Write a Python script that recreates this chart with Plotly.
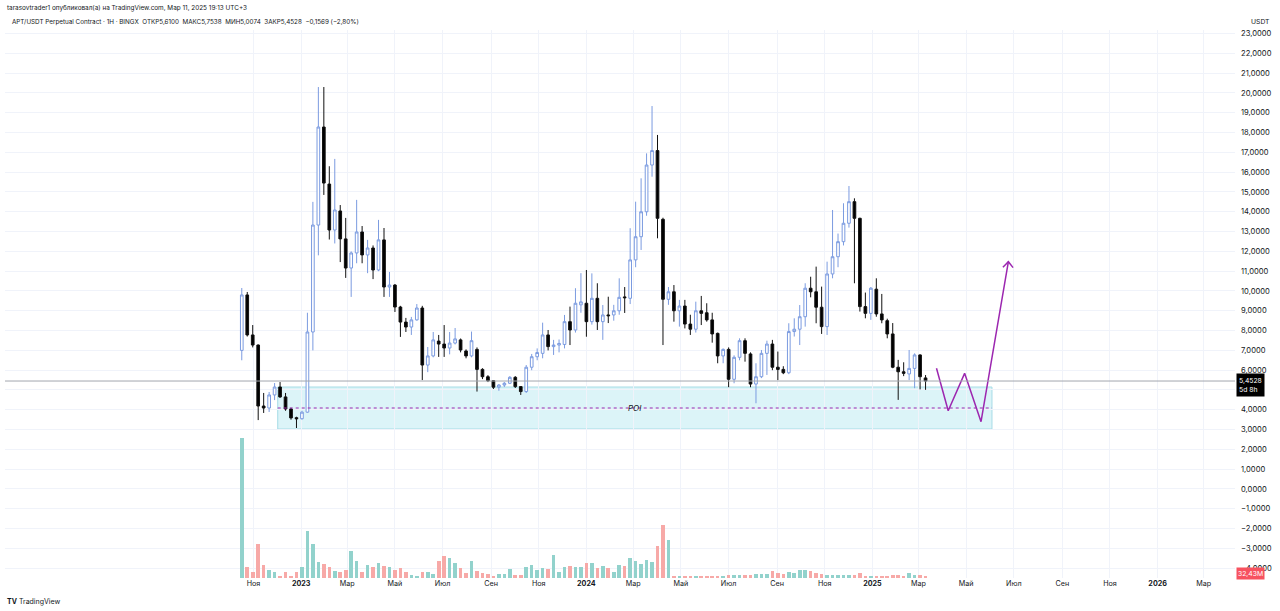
import pandas as pd
import plotly.graph_objects as go

# ---------------- data (weekly candles from 2022-10-17) ----------------
start_week = "2022-10-17"
n_weeks = 126
opens = [7.0, 9.8, 7.78, 7.27, 4.19, 4.09, 4.75, 5.15, 4.65, 4.04,
         3.6, 3.55, 3.88, 7.93, 13.33, 18.28, 15.4, 13.08, 14.04, 12.63,
         11.16, 11.92, 12.98, 11.82, 12.17, 11.06, 12.58, 10.2, 10.3, 9.19,
         8.43, 8.18, 8.54, 9.14, 6.26, 6.72, 7.47, 7.32, 7.12, 7.37,
         7.53, 6.97, 6.72, 7.05, 6.04, 5.67, 5.47, 5.14, 5.25, 5.34,
         5.64, 5.17, 4.92, 6.15, 6.68, 6.85, 7.78, 7.19, 7.27, 7.3,
         8.45, 8.03, 9.3, 9.38, 8.45, 9.63, 8.45, 8.79, 8.79, 9.0,
         9.7, 9.63, 11.57, 12.74, 14.0, 16.36, 17.09, 13.62, 9.58, 9.96,
         9.0, 9.24, 8.33, 8.07, 9.0, 8.9, 8.54, 7.86, 6.72, 7.05,
         5.54, 6.65, 7.49, 6.82, 5.3, 5.67, 6.85, 7.32, 6.15, 6.04,
         5.87, 7.95, 8.07, 8.7, 10.14, 9.96, 9.18, 8.2, 10.86, 11.73,
         12.49, 13.42, 14.51, 13.67, 9.21, 8.87, 10.09, 8.84, 8.5, 7.83,
         6.15, 5.92, 5.81, 6.09, 6.77, 5.61]
highs = [10.15, 9.95, 8.28, 7.3, 4.85, 4.9, 5.35, 5.4, 4.85, 4.1,
         3.65, 3.95, 8.9, 14.5, 20.3, 20.3, 16.3, 16.67, 14.34, 13.69,
         12.0, 14.6, 13.28, 12.58, 12.3, 13.59, 13.18, 10.96, 10.35, 9.25,
         8.64, 8.69, 9.34, 9.25, 7.17, 7.93, 7.78, 8.28, 7.93, 8.13,
         7.6, 7.05, 7.95, 7.15, 6.1, 5.75, 5.5, 5.3, 5.4, 5.7,
         5.7, 5.2, 6.26, 6.82, 7.1, 8.4, 8.03, 7.53, 7.55, 8.79,
         9.21, 10.14, 10.9, 11.06, 10.89, 10.39, 9.29, 9.71, 9.3, 10.64,
         10.2, 13.17, 14.51, 15.69, 16.95, 19.34, 17.88, 13.7, 10.2, 10.3,
         9.55, 9.55, 8.8, 9.46, 9.75, 9.38, 8.9, 7.9, 7.1, 7.15,
         6.75, 7.61, 7.61, 6.9, 6.35, 7.02, 7.49, 7.53, 6.94, 6.2,
         8.37, 8.62, 9.29, 10.39, 10.72, 11.23, 10.22, 11.48, 14.09, 12.9,
         14.43, 15.3, 14.68, 13.7, 9.92, 10.2, 10.64, 9.85, 8.6, 8.38,
         6.52, 6.4, 7.02, 6.85, 6.8, 5.7538]
lows = [6.5, 7.7, 7.15, 3.48, 3.84, 3.89, 4.49, 4.6, 3.95, 3.5,
        3.08, 3.5, 3.85, 7.0, 11.8, 14.85, 12.6, 12.4, 11.46, 10.66,
        9.7, 11.4, 11.4, 10.9, 10.6, 11.0, 9.7, 9.7, 8.94, 7.68,
        7.93, 7.78, 8.5, 5.5, 5.9, 6.65, 6.67, 6.67, 6.8, 7.3,
        6.9, 6.6, 6.65, 4.92, 5.55, 5.4, 5.05, 4.96, 5.15, 5.3,
        5.1, 4.75, 4.85, 6.0, 6.5, 6.6, 7.0, 6.77, 6.9, 7.1,
        7.27, 7.9, 8.9, 7.69, 8.3, 8.03, 7.53, 8.38, 8.5, 8.8,
        8.89, 9.34, 11.2, 12.07, 13.8, 15.77, 12.66, 7.27, 9.3, 8.45,
        8.2, 8.11, 7.78, 7.9, 8.28, 8.45, 7.39, 6.35, 6.35, 5.14,
        5.34, 6.5, 6.43, 5.14, 4.33, 5.6, 5.76, 6.0, 5.5, 5.8,
        5.8, 7.7, 7.27, 8.2, 9.68, 8.37, 7.83, 7.78, 10.64, 11.2,
        12.3, 13.2, 10.39, 8.96, 8.62, 8.54, 8.7, 8.37, 7.61, 6.1,
        4.5, 5.7, 5.5, 5.09, 5.03, 5.0074]
closes = [9.8, 7.78, 7.27, 4.19, 4.09, 4.75, 5.15, 4.65, 4.04, 3.59,
          3.55, 3.88, 7.93, 13.33, 18.28, 15.45, 13.08, 14.09, 12.63, 11.16,
          11.92, 12.98, 11.82, 12.17, 11.06, 12.58, 10.2, 10.3, 9.19, 8.43,
          8.18, 8.54, 9.14, 6.26, 6.72, 7.53, 7.32, 7.12, 7.37, 7.58,
          7.02, 6.72, 7.49, 6.04, 5.67, 5.47, 5.14, 5.25, 5.34, 5.64,
          5.17, 4.92, 6.15, 6.68, 6.89, 7.78, 7.19, 7.27, 7.35, 8.45,
          8.03, 9.38, 9.45, 8.45, 9.63, 8.45, 8.79, 8.75, 9.0, 9.68,
          9.66, 11.57, 12.74, 14.0, 16.36, 17.09, 13.67, 9.58, 9.96, 9.0,
          9.24, 8.33, 8.07, 9.0, 8.87, 8.54, 7.83, 6.72, 7.05, 5.54,
          6.65, 7.49, 6.85, 5.3, 5.67, 6.85, 7.32, 6.15, 6.04, 5.87,
          7.95, 8.07, 8.7, 10.14, 9.96, 9.18, 8.2, 10.86, 11.73, 12.49,
          13.42, 14.51, 13.67, 9.21, 8.87, 10.14, 8.84, 8.54, 7.83, 6.15,
          5.92, 5.84, 6.09, 6.77, 5.67, 5.4528]
volumes_m = [4480, 342, 202, 1088, 426, 256, 182, 74, 182, 74,
             182, 362, 1514, 1088, 522, 448, 342, 234, 182, 256,
             874, 554, 182, 416, 342, 480, 374, 362, 256, 320,
             182, 106, 54, 182, 202, 128, 534, 714, 640, 480,
             320, 150, 554, 234, 150, 128, 74, 128, 128, 288,
             106, 106, 342, 416, 256, 320, 288, 736, 182, 342,
             374, 362, 342, 470, 470, 310, 374, 310, 182, 416,
             374, 640, 554, 448, 576, 522, 1014, 1696, 1226, 74,
             74, 54, 54, 64, 54, 54, 42, 54, 74, 86,
             86, 86, 86, 86, 128, 128, 128, 234, 170, 128,
             192, 150, 256, 256, 214, 170, 128, 106, 106, 106,
             86, 86, 106, 150, 74, 54, 74, 74, 74, 86,
             86, 74, 170, 106, 106, 32.43]

price_ticks = list(range(-4, 24))
hidden_price_ticks = [5]  # covered by the last-price badge in the reference
month_ticks = ["2022-11-01", "2023-01-01", "2023-03-01", "2023-05-01", "2023-07-01",
               "2023-09-01", "2023-11-01", "2024-01-01", "2024-03-01", "2024-05-01",
               "2024-07-01", "2024-09-01", "2024-11-01", "2025-01-01", "2025-03-01",
               "2025-05-01", "2025-07-01", "2025-09-01", "2025-11-01", "2026-01-01",
               "2026-03-01"]
month_labels = ["Ноя", "<b>2023</b>", "Мар", "Май", "Июл", "Сен", "Ноя", "<b>2024</b>",
                "Мар", "Май", "Июл", "Сен", "Ноя", "<b>2025</b>", "Мар", "Май", "Июл",
                "Сен", "Ноя", "<b>2026</b>", "Мар"]

# POI zone and projected path (drawing)
poi_dates = ["2022-12-02", "2025-06-03"]
poi_top, poi_bottom = 5.15, 3.03
zigzag_dates = ["2025-03-24", "2025-04-08", "2025-04-29", "2025-05-20", "2025-06-24"]
zigzag_prices = [6.10, 3.95, 5.84, 3.40, 11.48]
arrow_wing_dates = ["2025-06-17", "2025-06-24", "2025-06-30"]
arrow_wing_prices = [11.20, 11.48, 11.18]
last_price = 5.4528

x_range = ["2021-12-18", "2026-04-10"]
y_range = [-4.495, 23.18]
vol_range = [0, 17536]

# ---------------- figure ----------------
dates = pd.date_range(start_week, periods=n_weeks, freq="7D")
UP = "#7b9be0"
DOWN = "#111111"
VOL_UP = "#92d2cc"
VOL_DOWN = "#f7a9a7"
vol_colors = [VOL_UP if c >= o else VOL_DOWN for o, c in zip(opens, closes)]
FONT = "Inter"
TXT = "#131722"


def price_label(v):
    if v in hidden_price_ticks:
        return ""
    return f"{v},0000" if v >= 0 else f"−{abs(v)},0000"


fig = go.Figure()

fig.add_trace(go.Bar(
    x=dates, y=volumes_m, yaxis="y2", marker=dict(color=vol_colors, line=dict(width=0)),
    width=4.6 * 86400000, showlegend=False, hoverinfo="skip"))

fig.add_trace(go.Candlestick(
    x=dates, open=opens, high=highs, low=lows, close=closes,
    increasing=dict(fillcolor="#ffffff", line=dict(color=UP, width=1)),
    decreasing=dict(fillcolor="#000000", line=dict(color=DOWN, width=1)),
    whiskerwidth=0, showlegend=False))

fig.add_trace(go.Scatter(
    x=zigzag_dates, y=zigzag_prices, mode="lines",
    line=dict(color="#9c27b0", width=1.5), showlegend=False, hoverinfo="skip"))
fig.add_trace(go.Scatter(
    x=arrow_wing_dates, y=arrow_wing_prices, mode="lines",
    line=dict(color="#9c27b0", width=1.5), showlegend=False, hoverinfo="skip"))

shapes = [
    dict(type="rect", xref="x", yref="y", x0=poi_dates[0], x1=poi_dates[1],
         y0=poi_bottom, y1=poi_top, fillcolor="#dcf4f8",
         line=dict(color="#a6dce6", width=1), layer="below"),
    dict(type="line", xref="x", yref="y", x0=poi_dates[0], x1=poi_dates[1],
         y0=(poi_top + poi_bottom) / 2, y1=(poi_top + poi_bottom) / 2,
         line=dict(color="#9c27b0", width=1, dash="3px,3px")),
    dict(type="line", xref="paper", yref="y", x0=0, x1=1, y0=last_price, y1=last_price,
         line=dict(color="#a3a6ae", width=1)),
]

annotations = [
    dict(text="tarasovtrader1 опубликовал(а) на TradingView.com, Мар 11, 2025 19:13 UTC+3",
         xref="paper", yref="paper", x=0.0, y=1.040, xanchor="left", yanchor="middle",
         showarrow=False, font=dict(size=6.4, color=TXT, family=FONT)),
    dict(text="APT/USDT Perpetual Contract · 1H · BINGX  ОТКР5,6100  МАКС5,7538  МИН5,0074  ЗАКР5,4528  −0,1569 (−2,80%)",
         xref="paper", yref="paper", x=0.004, y=1.0146, xanchor="left", yanchor="middle",
         showarrow=False, font=dict(size=6.3, color=TXT, family=FONT)),
    dict(text="USDT", xref="paper", yref="paper", x=1.0110, y=1.0146, xanchor="left",
         yanchor="middle", showarrow=False, font=dict(size=6.8, color=TXT, family=FONT)),
    dict(text="<i>POI</i>", xref="x", yref="y", x="2024-03-03", y=(poi_top + poi_bottom) / 2,
         showarrow=False, font=dict(size=8, color=TXT, family=FONT)),
    dict(text="5,4528<br>5d 8h", xref="paper", yref="y", x=1.0008, y=5.26,
         xanchor="left", yanchor="middle", showarrow=False, align="left",
         bgcolor="#000000", borderpad=2,
         font=dict(size=6.8, color="#ffffff", family=FONT)),
    dict(text="32,43M", xref="paper", yref="paper", x=1.001, y=0.009,
         xanchor="left", yanchor="middle", showarrow=False, bgcolor="#f7525f",
         borderpad=1, font=dict(size=6.8, color="#ffffff", family=FONT)),
    dict(text="<b>TV</b> TradingView", xref="paper", yref="paper", x=0.0, y=-0.042,
         xanchor="left", yanchor="middle", showarrow=False,
         font=dict(size=7, color=TXT, family=FONT)),
]

fig.update_layout(
    width=1280, height=611,
    margin=dict(l=5, r=45, t=30, b=33),
    paper_bgcolor="#ffffff", plot_bgcolor="#ffffff",
    font=dict(family=FONT, size=7.5, color=TXT),
    shapes=shapes, annotations=annotations,
    bargap=0,
    xaxis=dict(type="date", range=x_range, rangeslider=dict(visible=False),
               tickvals=month_ticks, ticktext=month_labels, tickangle=0,
               showgrid=True, gridcolor="#f0f3fa", gridwidth=1,
               zeroline=False, showline=False, ticks="",
               tickfont=dict(size=7.2, color=TXT, family=FONT)),
    yaxis=dict(side="right", range=y_range, tickvals=price_ticks,
               ticktext=[price_label(v) for v in price_ticks],
               showgrid=True, gridcolor="#f0f3fa", gridwidth=1, zeroline=False,
               showline=False, ticks="", ticklabelstandoff=5,
               tickfont=dict(size=7.6, color=TXT, family=FONT)),
    yaxis2=dict(overlaying="y", range=vol_range, showticklabels=False,
                showgrid=False, zeroline=False, showline=False),
)

fig.write_html("out.html", config={"displayModeBar": False},
               post_script="document.body.style.margin='0';")
